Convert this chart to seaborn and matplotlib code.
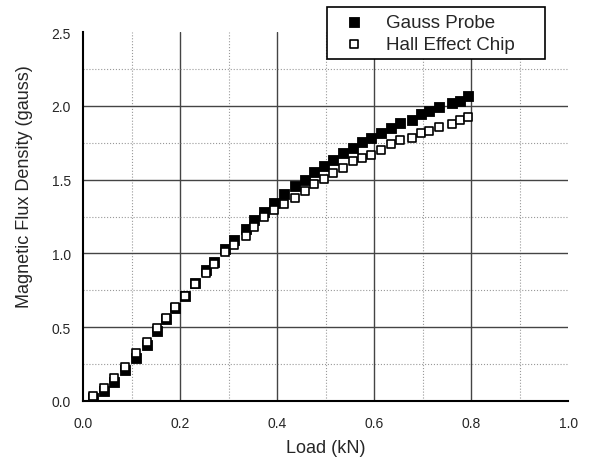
import matplotlib
matplotlib.use("Agg")
import matplotlib.pyplot as plt
from matplotlib.ticker import MultipleLocator
import seaborn as sns

# 数据
load_kn = [0.019, 0.043, 0.063, 0.087, 0.109, 0.132, 0.152, 0.171, 0.190, 0.210,
           0.231, 0.252, 0.269, 0.292, 0.311, 0.335, 0.351, 0.373, 0.394, 0.414,
           0.437, 0.457, 0.476, 0.496, 0.515, 0.535, 0.557, 0.575, 0.593, 0.613,
           0.635, 0.654, 0.677, 0.697, 0.713, 0.733, 0.760, 0.776, 0.794]
gauss_probe = [0.020, 0.065, 0.130, 0.205, 0.290, 0.375, 0.470, 0.555, 0.630, 0.710,
               0.800, 0.889, 0.943, 1.029, 1.092, 1.165, 1.228, 1.278, 1.341, 1.402,
               1.455, 1.500, 1.554, 1.594, 1.633, 1.678, 1.716, 1.753, 1.782, 1.816,
               1.850, 1.882, 1.907, 1.946, 1.969, 1.990, 2.020, 2.035, 2.065]
hall_chip = [0.034, 0.086, 0.154, 0.231, 0.324, 0.396, 0.491, 0.559, 0.634, 0.712,
             0.794, 0.866, 0.925, 1.007, 1.058, 1.120, 1.180, 1.244, 1.296, 1.334,
             1.373, 1.425, 1.470, 1.502, 1.545, 1.577, 1.628, 1.645, 1.669, 1.703,
             1.741, 1.767, 1.781, 1.816, 1.832, 1.859, 1.878, 1.905, 1.927]
series_labels = ["Gauss Probe", "Hall Effect Chip"]

sns.set_style("white")
plt.rcParams["font.family"] = ["Liberation Sans", "DejaVu Sans"]

fig = plt.figure(figsize=(5.92, 4.64), dpi=100)
ax = fig.add_axes([83.3 / 592, 1 - 401.7 / 464, 485 / 592, 368.4 / 464])

# 先画实心，再画空心（空心压在上面）
sns.scatterplot(x=load_kn, y=gauss_probe, marker="s", s=42, color="black",
                edgecolor="black", linewidth=0.6, label=series_labels[0], ax=ax, zorder=3)
sns.scatterplot(x=load_kn, y=hall_chip, marker="s", s=34, color="white",
                edgecolor="black", linewidth=1.2, label=series_labels[1], ax=ax, zorder=4)

ax.set_xlim(0, 1.0)
ax.set_ylim(0, 2.5)
ax.xaxis.set_major_locator(MultipleLocator(0.2))
ax.xaxis.set_minor_locator(MultipleLocator(0.1))
ax.yaxis.set_major_locator(MultipleLocator(0.5))
ax.yaxis.set_minor_locator(MultipleLocator(0.25))

ax.grid(which="major", color="#444444", linestyle="-", linewidth=1.0)
ax.grid(which="minor", color="#999999", linestyle=":", linewidth=0.8)
ax.set_axisbelow(True)
fig.canvas.draw()
for t in ax.xaxis.get_major_ticks() + ax.xaxis.get_minor_ticks():
    if abs(t.get_loc() - 1.0) < 1e-6 or abs(t.get_loc()) < 1e-6:
        t.gridline.set_visible(False)
for t in ax.yaxis.get_major_ticks() + ax.yaxis.get_minor_ticks():
    if abs(t.get_loc() - 2.5) < 1e-6 or abs(t.get_loc()) < 1e-6:
        t.gridline.set_visible(False)

for side in ["top", "right"]:
    ax.spines[side].set_visible(False)
for side in ["left", "bottom"]:
    ax.spines[side].set_linewidth(1.5)
    ax.spines[side].set_color("black")

ax.tick_params(which="major", direction="out", length=5, width=1.2, labelsize=10,
               color="black", pad=4)
ax.tick_params(axis="x", which="major", pad=6)
ax.tick_params(which="minor", direction="in", length=4, width=1.0, color="black")
ax.xaxis.set_major_formatter(lambda v, p: f"{v:.1f}")
ax.yaxis.set_major_formatter(lambda v, p: f"{v:.1f}")

ax.set_xlabel("Load (kN)", fontsize=13)
ax.set_ylabel("Magnetic Flux Density (gauss)", fontsize=13)
ax.xaxis.set_label_coords(0.5, -0.105)
ax.yaxis.set_label_coords(-0.104, 0.584)

leg = ax.legend(loc="upper left", mode="expand",
                bbox_to_anchor=(327 / 592, 1 - 70 / 464, 218 / 592, 62 / 464),
                bbox_transform=fig.transFigure, borderaxespad=0,
                fontsize=13.5, frameon=True, fancybox=False, labelspacing=0.25,
                borderpad=0.35, handlelength=2.2, handletextpad=0.6)
leg.get_frame().set_edgecolor("black")
leg.get_frame().set_linewidth(1.2)
leg.get_frame().set_alpha(1)

fig.savefig("out.png", dpi=100)
